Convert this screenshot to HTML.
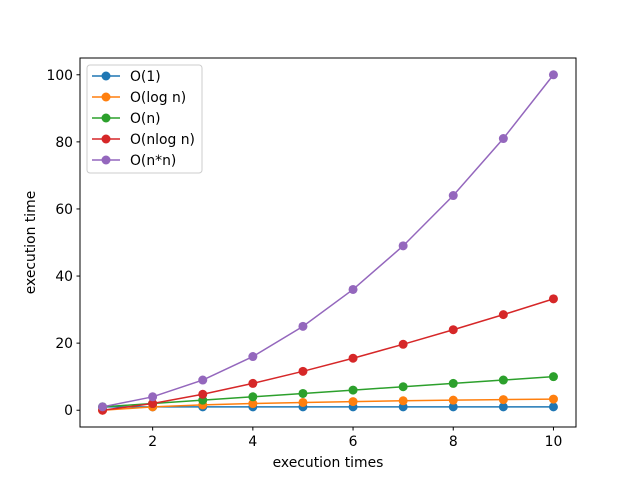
<!DOCTYPE html>
<html><head><meta charset="utf-8"><style>
body{margin:0;background:#fff;}
svg{display:block;font-family:"DejaVu Sans","Liberation Sans",sans-serif;}
</style></head><body>
<svg id="chart" width="640" height="480"></svg>
<script>
const categories=[1,2,3,4,5,6,7,8,9,10];
const seriesNames=["O(1)","O(log n)","O(n)","O(nlog n)","O(n*n)"];
const seriesColors=["#1f77b4","#ff7f0e","#2ca02c","#d62728","#9467bd"];
const sO1=[1,1,1,1,1,1,1,1,1,1];
const sLogN=[0,1,1.58,2,2.32,2.58,2.81,3,3.17,3.32];
const sN=[1,2,3,4,5,6,7,8,9,10];
const sNLogN=[0,2,4.75,8,11.6,15.5,19.65,24,28.5,33.2];
const sNN=[1,4,9,16,25,36,49,64,81,100];
const xTicks=[2,4,6,8,10];
const yTicks=[0,20,40,60,80,100];

const NS="http://www.w3.org/2000/svg";
const svg=document.getElementById('chart');
const L=80,R=576,T=58,B=427;
const xMin=0.55,xMax=10.45,yMin=-5,yMax=105;
const X=v=>L+(v-xMin)/(xMax-xMin)*(R-L);
const Y=v=>B-(v-yMin)/(yMax-yMin)*(B-T);
const FS=13.9;
function mk(tag,attrs,parent){const e=document.createElementNS(NS,tag);for(const k in attrs)e.setAttribute(k,attrs[k]);(parent||svg).appendChild(e);return e;}

const frame=mk('rect',{x:L,y:T,width:R-L,height:B-T,fill:'none',stroke:'#000','stroke-width':1});



xTicks.forEach(t=>{
  const l=mk('line',{x1:X(t),x2:X(t),y1:B,y2:B+3.5,stroke:'#000'});
  
  
  const tx=mk('text',{x:X(t),y:B+19,'text-anchor':'middle','font-size':FS});
  tx.textContent=t;
  
  
});
yTicks.forEach(t=>{
  const l=mk('line',{x1:L-3.5,x2:L,y1:Y(t),y2:Y(t),stroke:'#000'});
  
  
  const tx=mk('text',{x:L-7,y:Y(t)+5,'text-anchor':'end','font-size':FS});
  tx.textContent=t;
  
  
});
const xt=mk('text',{x:(L+R)/2,y:467,'text-anchor':'middle','font-size':FS});
xt.textContent='execution times';


const yt=mk('text',{x:35,y:(T+B)/2,'text-anchor':'middle','font-size':FS,transform:`rotate(-90 35 ${(T+B)/2})`});
yt.textContent='execution time';



const allSeries=[sO1,sLogN,sN,sNLogN,sNN];
allSeries.forEach((s,i)=>{
  const g=mk('g',{});
  
  
  const pts=s.map((v,j)=>X(categories[j])+','+Y(v)).join(' ');
  const pl=mk('polyline',{points:pts,fill:'none',stroke:seriesColors[i],'stroke-width':1.5},g);
  
  
  s.forEach((v,j)=>{
    const c=mk('circle',{cx:X(categories[j]),cy:Y(v),r:4.5,fill:seriesColors[i]},g);
    
    
  });
});

const lg=mk('g',{});


mk('rect',{x:87,y:65,width:115,height:108,rx:3,fill:'#fff','fill-opacity':0.8,stroke:'#ccc'},lg);
seriesNames.forEach((n,i)=>{
  const y=76+i*21;
  const e=mk('g',{},lg);
  
  
  mk('line',{x1:92,x2:120,y1:y,y2:y,stroke:seriesColors[i],'stroke-width':1.5},e);
  mk('circle',{cx:106,cy:y,r:4.5,fill:seriesColors[i]},e);
  const t=mk('text',{x:130,y:y+5,'font-size':FS},e);
  t.textContent=n;
});
</script>
</body></html>
